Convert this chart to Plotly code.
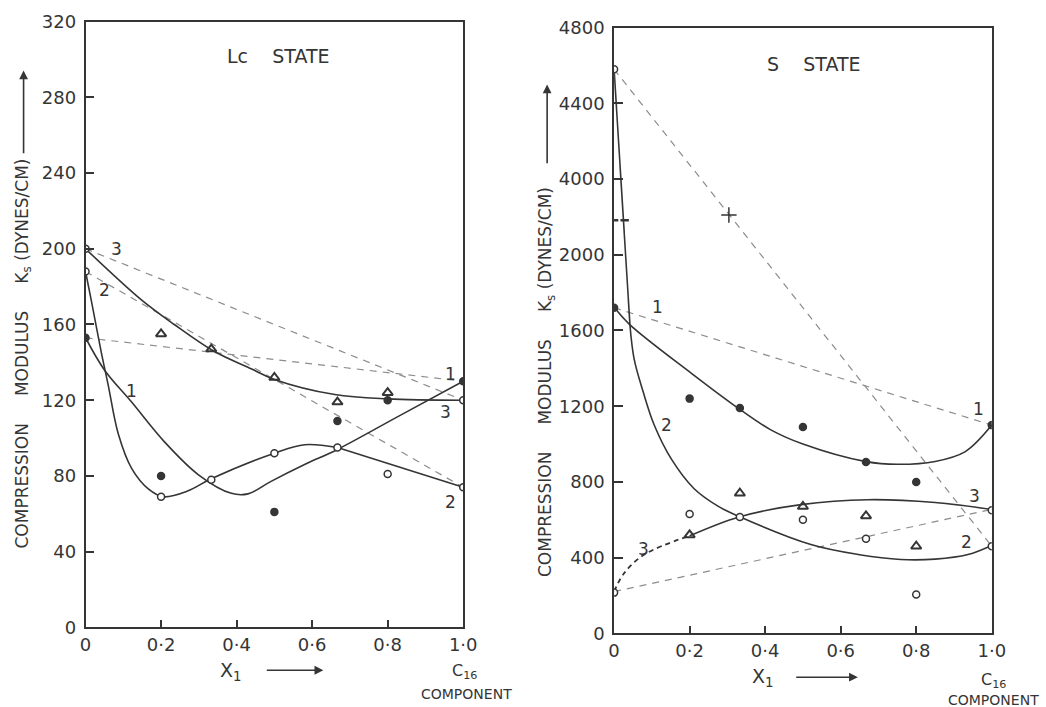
import plotly.graph_objects as go

# Figure canvas (a little larger than the window: the page is shown
# slightly reduced, so positions are mapped through that reduction).
FW, FH = 1062, 720
AX, BX = 4.4, 0.982   # observed page x = AX + BX * figure x
AY, BY = 8.3, 0.973   # observed page y = AY + BY * figure y
INK = "#353535"
DASH = "#8c8c8c"
FONT = "DejaVu Sans"

# ---------------- Lc STATE (left panel) ----------------
lc_filled_x = [0, 0.2, 0.5, 0.667, 0.8, 1.0]
lc_filled_y = [153, 80, 61, 109, 120, 130]
lc_open_x = [0, 0, 0.2, 0.333, 0.5, 0.667, 0.8, 1.0, 1.0]
lc_open_y = [188, 200, 69, 78, 92, 95, 81, 120, 74]
lc_tri_x = [0.2, 0.333, 0.5, 0.667, 0.8]
lc_tri_y = [155, 147, 132, 119, 124]

lc_c1_x = [0, 0.05, 0.122, 0.209, 0.299, 0.386, 0.43, 0.49, 0.58, 0.667, 0.833, 1.0]
lc_c1_y = [153, 136, 119, 98, 80.6, 70.8, 70.5, 77, 86, 94, 112, 130]
lc_c2a_x = [0, 0.016, 0.042, 0.06, 0.087, 0.122, 0.167, 0.206, 0.27, 0.333, 0.5, 0.58, 0.667]
lc_c2a_y = [188, 172, 145, 128, 102, 84, 73, 69, 72, 78.5, 92, 96.5, 95]
lc_c2b_x = [0.667, 1.0]
lc_c2b_y = [95, 74]
lc_c3_x = [0, 0.148, 0.235, 0.339, 0.44, 0.5, 0.66, 0.8, 1.0]
lc_c3_y = [200, 173, 160, 146, 136.5, 131, 123, 120.7, 120]

lc_ideal_x = [0, 1.0]
lc_ideal1_y = [153, 130]
lc_ideal2_y = [188, 74]
lc_ideal3_y = [200, 120]

lc_ticks = [0, 40, 80, 120, 160, 200, 240, 280, 320]

# ---------------- S STATE (right panel) ----------------
s_filled_x = [0, 0.2, 0.333, 0.5, 0.667, 0.8, 1.0]
s_filled_y = [1720, 1240, 1190, 1090, 905, 800, 1100]
s_open_x = [0, 0, 0.2, 0.333, 0.5, 0.667, 0.8, 1.0, 1.0]
s_open_y = [4580, 215, 630, 615, 600, 500, 205, 460, 650]
s_tri_x = [0.2, 0.333, 0.5, 0.667, 0.8]
s_tri_y = [520, 740, 670, 620, 460]
s_cross_x = [0.304]
s_cross_y = [3050]
s_break_x = [0, 0.028]
s_break_y = [2910, 2910]

s_c1_x = [0, 0.04, 0.204, 0.331, 0.415, 0.5, 0.667, 0.75, 0.85, 0.93, 1.0]
s_c1_y = [1724, 1634, 1375, 1186, 1075, 1000, 907, 893, 908, 960, 1100]
s_c2a_x = [0, 0.042]
s_c2a_y = [4580, 1629]
s_c2b_x = [0.042, 0.053, 0.077, 0.106, 0.151, 0.212, 0.275, 0.331, 0.521,
           0.65, 0.759, 0.85, 0.937, 1.0]
s_c2b_y = [1629, 1450, 1276, 1102, 923, 764, 672, 617, 469,
           415, 390, 392, 416, 464]
s_c3a_x = [0, 0.026, 0.08, 0.2]
s_c3a_y = [221, 316, 416, 515]
s_c3b_x = [0.2, 0.331, 0.495, 0.672, 0.85, 1.0]
s_c3b_y = [515, 615, 680, 706, 691, 654]

s_ideal_x = [0, 1.0]
s_ideal1_y = [1720, 1100]
s_ideal2_y = [4580, 460]
s_ideal3_y = [220, 655]

s_tick_values = [0, 400, 800, 1200, 1600, 2000, 4000, 4400, 4800]
x_tick_vals = [0, 0.2, 0.4, 0.6, 0.8, 1.0]
x_tick_text = ["0", "0·2", "0·4", "0·6", "0·8", "1·0"]


def spos(v):
    """Broken S-state axis: 2000..4000 is compressed into one tick step."""
    if v <= 2000:
        return v
    if v <= 4000:
        return 2000 + (v - 2000) * 0.2
    return v - 1600


def S(vals):
    return [spos(v) for v in vals]


fig = go.Figure()


def line(x, y, ax, dash=None, shape="spline", width=1.6, color=INK):
    ln = dict(color=color, width=width, dash=dash, shape=shape)
    if shape == "spline":
        ln["smoothing"] = 1.0
    fig.add_trace(go.Scatter(
        x=x, y=y, mode="lines", xaxis=ax[0], yaxis=ax[1], line=ln,
        hoverinfo="skip", showlegend=False))


def pts(x, y, ax, symbol, size, fill, lw=1.5):
    fig.add_trace(go.Scatter(
        x=x, y=y, mode="markers", xaxis=ax[0], yaxis=ax[1],
        marker=dict(symbol=symbol, size=size, color=fill,
                    line=dict(color=INK, width=lw)),
        hoverinfo="skip", showlegend=False))


L = ("x", "y")
R = ("x2", "y2")

# left panel
for iy in (lc_ideal1_y, lc_ideal2_y, lc_ideal3_y):
    line(lc_ideal_x, iy, L, dash="7px,6px", shape="linear", width=1.2, color=DASH)
line(lc_c1_x, lc_c1_y, L)
line(lc_c2a_x, lc_c2a_y, L)
line(lc_c2b_x, lc_c2b_y, L, shape="linear")
line(lc_c3_x, lc_c3_y, L)
pts(lc_filled_x, lc_filled_y, L, "circle", 7, INK)
pts(lc_open_x, lc_open_y, L, "circle", 7, "white")
pts(lc_tri_x, lc_tri_y, L, "triangle-up-open", 9, INK, lw=2)

# right panel
for iy in (s_ideal1_y, s_ideal2_y, s_ideal3_y):
    line(s_ideal_x, S(iy), R, dash="7px,6px", shape="linear", width=1.2, color=DASH)
line(s_c1_x, S(s_c1_y), R)
line(s_c2a_x, S(s_c2a_y), R, shape="linear")
line(s_c2b_x, S(s_c2b_y), R)
line(s_c3a_x, S(s_c3a_y), R, dash="5px,4px", width=1.8)
line(s_c3b_x, S(s_c3b_y), R)
pts(s_filled_x, S(s_filled_y), R, "circle", 7, INK)
pts(s_open_x, S(s_open_y), R, "circle", 7, "white")
pts(s_tri_x, S(s_tri_y), R, "triangle-up-open", 9, INK, lw=2)
pts(s_cross_x, S(s_cross_y), R, "cross-thin", 11, INK, lw=1.5)
pts(s_break_x, S(s_break_y), R, "line-ew", 6, INK, lw=2.5)


def px(xp):
    """target page pixel -> paper x"""
    return ((xp - AX) / BX) / FW


def py(yp):
    """target page pixel -> paper y"""
    return 1 - ((yp - AY) / BY) / FH


tickfont = dict(family=FONT, size=18, color=INK)
common_x = dict(range=[0, 1.0], tickvals=x_tick_vals, ticktext=x_tick_text,
                ticks="inside", ticklen=8, tickwidth=1.5, tickcolor=INK,
                showline=True, linecolor=INK, linewidth=1.6, mirror=True,
                showgrid=False, zeroline=False, tickfont=tickfont,
                fixedrange=True)
common_y = dict(ticks="inside", ticklen=9, tickwidth=1.5, tickcolor=INK,
                showline=True, linecolor=INK, linewidth=1.6, mirror=True,
                showgrid=False, zeroline=False, tickfont=tickfont,
                ticklabelstandoff=4, fixedrange=True)

fig.update_layout(
    width=FW, height=FH, autosize=False,
    margin=dict(l=0, r=0, t=0, b=0, pad=0),
    paper_bgcolor="white", plot_bgcolor="white",
    showlegend=False,
    xaxis=dict(domain=[px(84), px(462)], anchor="y", **common_x),
    yaxis=dict(domain=[py(626), py(19)], anchor="x", range=[0, 320],
               tickvals=lc_ticks, ticktext=[str(v) for v in lc_ticks], **common_y),
    xaxis2=dict(domain=[px(613), px(991)], anchor="y2", **common_x),
    yaxis2=dict(domain=[py(632), py(25)], anchor="x2", range=[0, 3200],
                tickvals=S(s_tick_values), ticktext=[str(v) for v in s_tick_values],
                **common_y),
)

ann = []


def text_paper(t, xp, yp, size=16, angle=0):
    ann.append(dict(text=t, x=px(xp), y=py(yp), xref="paper", yref="paper",
                    xanchor="center", yanchor="middle",
                    showarrow=False, textangle=angle,
                    font=dict(family=FONT, size=size, color=INK)))


def text_data(t, x, y, ax, size=17):
    ann.append(dict(text=t, x=x, y=y, xref=ax[0], yref=ax[1], showarrow=False,
                    xanchor="center", yanchor="middle",
                    font=dict(family=FONT, size=size, color=INK)))


def arrow_paper(x0, y0, x1, y1):
    # tail at (x0, y0), head at (x1, y1), target page pixels
    ann.append(dict(text="", x=px(x1), y=py(y1), xref="paper", yref="paper",
                    ax=(x0 - x1) / BX, ay=(y0 - y1) / BY,
                    axref="pixel", ayref="pixel",
                    showarrow=True, arrowhead=2, arrowsize=1.1, arrowwidth=1.6,
                    arrowcolor=INK))


# panel titles
text_paper("Lc    STATE", 277, 53, size=19)
text_paper("S    STATE", 813, 61, size=19)

# y-axis titles
ytitle = "COMPRESSION     MODULUS     K<sub>s</sub> (DYNES/CM)"
text_paper(ytitle, 22, 352, size=17, angle=-90)
text_paper(ytitle, 546, 380, size=17, angle=-90)
arrow_paper(22, 150, 22, 68)
arrow_paper(546, 160, 546, 82)

# x-axis titles
text_paper("X<sub>1</sub>", 230, 670, size=19)
arrow_paper(265, 669, 322, 669)
text_paper("X<sub>1</sub>", 762, 676, size=19)
arrow_paper(795, 676, 857, 676)
text_paper("C<sub>16</sub>", 463, 670, size=16)
text_paper("COMPONENT", 465, 693, size=14)
text_paper("C<sub>16</sub>", 993, 679, size=16)
text_paper("COMPONENT", 993, 699, size=14)

# curve numbers, left panel
text_data("3", 0.082, 200, L)
text_data("2", 0.05, 178, L)
text_data("1", 0.122, 125, L)
text_data("1", 0.966, 134, L)
text_data("3", 0.952, 114, L)
text_data("2", 0.966, 66, L)

# curve numbers, right panel
text_data("1", 0.116, spos(1724), R)
text_data("2", 0.14, spos(1102), R)
text_data("3", 0.077, spos(443), R)
text_data("1", 0.966, spos(1186), R)
text_data("3", 0.955, spos(727), R)
text_data("2", 0.934, spos(480), R)

fig.update_layout(annotations=ann)

fig.write_html("out.html")
